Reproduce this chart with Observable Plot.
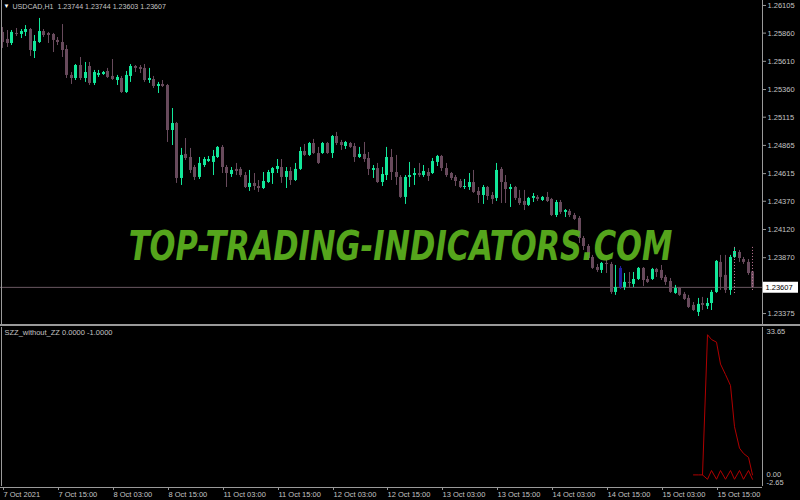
<!DOCTYPE html>
<html><head><meta charset="utf-8">
<script src="https://cdn.jsdelivr.net/npm/d3@7"></script>
<script src="https://cdn.jsdelivr.net/npm/@observablehq/plot@0.6"></script>
<style>
html,body{margin:0;padding:0;background:#000;}
#wrap{position:relative;width:800px;height:500px;background:#000;overflow:hidden;}
#wrap svg{position:absolute;left:0;}
</style></head><body><div id="wrap"></div>
<script>
// ---- data: USDCAD H1 candles (index 0 = 7 Oct 2021 03:00) ----
const open = [1.25866,1.25804,1.25768,1.25857,1.25848,1.25866,1.25892,1.25697,1.25777,1.25874,
1.25857,1.25848,1.25795,1.25777,1.25715,1.25485,1.25458,1.25573,1.25458,1.25564,
1.25414,1.25485,1.25493,1.25520,1.25476,1.25440,1.25458,1.25334,1.25476,1.25564,
1.25555,1.25547,1.25440,1.25449,1.25387,1.25405,1.25396,1.24997,1.25059,1.24572,
1.24785,1.24758,1.24669,1.24581,1.24687,1.24722,1.24714,1.24758,1.24847,1.24669,
1.24607,1.24652,1.24652,1.24598,1.24492,1.24528,1.24501,1.24483,1.24536,1.24616,
1.24652,1.24669,1.24581,1.24634,1.24554,1.24652,1.24811,1.24776,1.24882,1.24793,
1.24793,1.24882,1.24793,1.24944,1.24891,1.24855,1.24882,1.24855,1.24758,1.24785,
1.24749,1.24643,1.24660,1.24536,1.24598,1.24758,1.24625,1.24581,1.24404,1.24581,
1.24598,1.24616,1.24598,1.24625,1.24616,1.24714,1.24767,1.24660,1.24616,1.24581,
1.24545,1.24492,1.24492,1.24536,1.24457,1.24421,1.24492,1.24421,1.24395,1.24652,
1.24536,1.24474,1.24492,1.24395,1.24368,1.24333,1.24395,1.24404,1.24377,1.24404,
1.24386,1.24244,1.24359,1.24271,1.24280,1.24244,1.24218,1.24040,1.23969,1.23872,
1.23783,1.23757,1.23819,1.23810,1.23562,1.23775,1.23606,1.23651,1.23633,1.23677,
1.23775,1.23677,1.23677,1.23766,1.23757,1.23695,1.23659,1.23553,1.23597,1.23545,
1.23509,1.23447,1.23385,1.23464,1.23438,1.23464,1.23562,1.23828,1.23713,1.23580,
1.23872,1.23916,1.23854,1.23828,1.23744];
const high = [1.25910,1.25883,1.25883,1.25901,1.25892,1.25927,1.25901,1.25839,1.25990,1.25892,
1.25866,1.25857,1.25821,1.25936,1.25750,1.25511,1.25582,1.25644,1.25600,1.25600,
1.25529,1.25529,1.25520,1.25547,1.25626,1.25485,1.25476,1.25520,1.25582,1.25573,
1.25573,1.25582,1.25547,1.25476,1.25423,1.25440,1.25405,1.25192,1.25068,1.24838,
1.24926,1.24838,1.24687,1.24758,1.24758,1.24767,1.24820,1.24855,1.24864,1.24687,
1.24669,1.24705,1.24669,1.24625,1.24643,1.24616,1.24554,1.24625,1.24643,1.24669,
1.24740,1.24740,1.24669,1.24669,1.24705,1.24847,1.24873,1.24891,1.24918,1.24847,
1.24891,1.24891,1.24953,1.24980,1.24909,1.24900,1.24891,1.24882,1.24847,1.24891,
1.24802,1.24687,1.24705,1.24669,1.24847,1.24829,1.24776,1.24598,1.24598,1.24714,
1.24660,1.24705,1.24687,1.24660,1.24749,1.24776,1.24776,1.24705,1.24625,1.24598,
1.24563,1.24563,1.24616,1.24643,1.24492,1.24510,1.24501,1.24448,1.24705,1.24669,
1.24598,1.24519,1.24501,1.24466,1.24466,1.24404,1.24439,1.24421,1.24412,1.24448,
1.24395,1.24377,1.24377,1.24297,1.24297,1.24262,1.24235,1.24058,1.23987,1.23890,
1.23810,1.23828,1.23863,1.23828,1.23801,1.23792,1.23730,1.23739,1.23739,1.23783,
1.23783,1.23704,1.23775,1.23775,1.23801,1.23713,1.23686,1.23624,1.23606,1.23562,
1.23536,1.23473,1.23509,1.23518,1.23509,1.23580,1.23845,1.23890,1.23890,1.23890,
1.23961,1.23934,1.23872,1.23854,1.23744];
const low = [1.25724,1.25733,1.25750,1.25830,1.25812,1.25830,1.25653,1.25635,1.25768,1.25821,
1.25768,1.25688,1.25750,1.25644,1.25458,1.25405,1.25440,1.25440,1.25423,1.25396,
1.25396,1.25467,1.25485,1.25458,1.25440,1.25396,1.25325,1.25325,1.25423,1.25511,
1.25502,1.25423,1.25414,1.25369,1.25325,1.25378,1.24891,1.24864,1.24528,1.24510,
1.24731,1.24616,1.24554,1.24563,1.24669,1.24714,1.24598,1.24749,1.24616,1.24492,
1.24581,1.24598,1.24581,1.24483,1.24457,1.24466,1.24448,1.24474,1.24528,1.24519,
1.24616,1.24528,1.24483,1.24510,1.24545,1.24643,1.24767,1.24767,1.24785,1.24696,
1.24785,1.24785,1.24749,1.24864,1.24820,1.24829,1.24838,1.24714,1.24749,1.24714,
1.24598,1.24572,1.24528,1.24501,1.24554,1.24554,1.24510,1.24395,1.24342,1.24492,
1.24510,1.24581,1.24581,1.24545,1.24607,1.24678,1.24634,1.24581,1.24554,1.24501,
1.24483,1.24474,1.24466,1.24439,1.24350,1.24342,1.24377,1.24342,1.24368,1.24350,
1.24350,1.24315,1.24377,1.24333,1.24288,1.24324,1.24359,1.24368,1.24368,1.24359,
1.24235,1.24226,1.24253,1.24226,1.24226,1.24200,1.23996,1.23934,1.23845,1.23766,
1.23739,1.23730,1.23730,1.23545,1.23536,1.23589,1.23580,1.23606,1.23606,1.23668,
1.23615,1.23642,1.23668,1.23695,1.23668,1.23624,1.23553,1.23545,1.23527,1.23491,
1.23420,1.23394,1.23349,1.23402,1.23411,1.23402,1.23553,1.23580,1.23553,1.23536,
1.23863,1.23828,1.23810,1.23713,1.23603];
const close = [1.25777,1.25768,1.25866,1.25848,1.25874,1.25892,1.25706,1.25786,1.25874,1.25839,
1.25839,1.25795,1.25777,1.25706,1.25485,1.25458,1.25573,1.25458,1.25511,1.25414,
1.25511,1.25502,1.25511,1.25467,1.25449,1.25467,1.25334,1.25485,1.25564,1.25547,
1.25538,1.25440,1.25458,1.25387,1.25405,1.25387,1.24997,1.25059,1.24572,1.24776,
1.24749,1.24643,1.24581,1.24705,1.24740,1.24740,1.24767,1.24847,1.24669,1.24616,
1.24643,1.24634,1.24598,1.24492,1.24528,1.24501,1.24483,1.24545,1.24625,1.24660,
1.24678,1.24581,1.24634,1.24554,1.24652,1.24811,1.24776,1.24882,1.24793,1.24705,
1.24882,1.24793,1.24944,1.24882,1.24864,1.24891,1.24847,1.24758,1.24785,1.24740,
1.24652,1.24660,1.24536,1.24607,1.24758,1.24625,1.24581,1.24404,1.24581,1.24598,
1.24616,1.24598,1.24634,1.24590,1.24722,1.24767,1.24660,1.24598,1.24572,1.24545,
1.24492,1.24501,1.24536,1.24448,1.24421,1.24492,1.24412,1.24386,1.24643,1.24536,
1.24474,1.24492,1.24395,1.24350,1.24333,1.24395,1.24412,1.24386,1.24404,1.24368,
1.24244,1.24359,1.24271,1.24288,1.24244,1.24209,1.24040,1.23969,1.23863,1.23775,
1.23757,1.23819,1.23810,1.23562,1.23606,1.23606,1.23651,1.23642,1.23677,1.23775,
1.23668,1.23651,1.23766,1.23739,1.23686,1.23651,1.23562,1.23597,1.23536,1.23500,
1.23429,1.23402,1.23456,1.23447,1.23464,1.23562,1.23837,1.23695,1.23580,1.23872,
1.23925,1.23863,1.23828,1.23730,1.23607];
const blueBars = [135];
const lastPrice = 1.23607;
const priceTicks = [1.26105,1.25860,1.25610,1.25360,1.25115,1.24865,1.24615,1.24370,1.24120,1.23870,1.23375];
const timeTickIdx = [0,12,24,36,48,60,72,84,96,108,120,132,144,156];
const timeLabels = ["7 Oct 2021","7 Oct 15:00","8 Oct 03:00","8 Oct 15:00","11 Oct 03:00","11 Oct 15:00","12 Oct 03:00","12 Oct 15:00","13 Oct 03:00","13 Oct 15:00","14 Oct 03:00","14 Oct 15:00","15 Oct 03:00","15 Oct 15:00"];
const dotIdx = [160, 164];
const dotTop = [1.23961, 1.23961];
const dotBottom = [1.23553, 1.23580];
// indicator SZZ_without_ZZ
const curveIdx = [153,154,155,156,157,158,159,160,161,162,163,164];
const curveVal = [0, 32.0, 30.9, 30.3, 25.3, 22.9, 20.4, 11.0, 6.1, 4.9, 4.0, 0.0];
const zigIdx = [151,152,153,154,155,156,157,158,159,160,161,162,163,164];
const zigVal = [0, 0, 0, -1, 1, -1, 1, -1, 1, -1, 1, -1, 1, -1];
const titleText = "USDCAD,H1  1.23744 1.23744 1.23603 1.23607";
const legendText = "SZZ_without_ZZ 0.0000 -1.0000";
const watermark = "TOP-TRADING-INDICATORS.COM";

// ---- styling ----
const BULL = "#12e89a", BEAR = "#684a5c", BLUE = "#1f1f9e", RED = "#b00000";
const BORDER = "#9a9a9a", TXT = "#c4c4c4";
const font = "'Liberation Sans', Arial, sans-serif";
const fs = 7.5;

const bars = open.map((o, i) => ({i, o, h: high[i], l: low[i], c: close[i]}));
const col = d => blueBars.includes(d.i) ? BLUE : (d.c >= d.o ? BULL : BEAR);
const xCfg = {domain: [-0.5, 166.1], round: true, axis: null, label: null};

const main = Plot.plot({
  width: 800, height: 324, marginTop: 0, marginBottom: 0, marginLeft: 0, marginRight: 38,
  style: {background: "#000", color: TXT, fontFamily: font, fontSize: fs + "px"},
  x: xCfg,
  y: {domain: [1.23278, 1.26149], axis: null, label: null},
  marks: [
    Plot.ruleY([lastPrice], {stroke: "#6a5862"}),
    Plot.ruleX(bars, {x: "i", y1: "l", y2: "h", stroke: col}),
    Plot.ruleX(bars, {x: "i", y1: "o", y2: "c", stroke: col, strokeWidth: 3}),
    Plot.ruleX(dotIdx.map((i, k) => ({i, t: dotTop[k], b: dotBottom[k]})),
      {x: "i", y1: "b", y2: "t", stroke: "#c07898", strokeDasharray: "1,2"}),
    Plot.ruleX([166.1], {stroke: BORDER}),
    Plot.ruleX([-0.5], {stroke: BORDER, dx: 1}),
    Plot.axisY({anchor: "right", ticks: priceTicks, tickFormat: d => d.toFixed(5), label: null,
      tickSize: 3, tickPadding: 2, color: TXT, stroke: BORDER, fontSize: fs}),
    Plot.ruleY([lastPrice], {x1: 166.35, x2: 173.9, stroke: "#fff", strokeWidth: 11}),
    Plot.text([lastPrice], {y: d => d, x: 166.35, text: d => d.toFixed(5), textAnchor: "start",
      dx: 2, fill: "#000", fontSize: fs}),
    Plot.text(["\u25BC"], {text: d => d, frameAnchor: "top-left", dx: 3, dy: 3, lineAnchor: "top",
      fill: "#fff", fontSize: 6}),
    Plot.text([titleText], {text: d => d, frameAnchor: "top-left", dx: 12, dy: 3, lineAnchor: "top",
      fill: TXT, fontSize: 7.1}),
    Plot.text([watermark], {text: d => d, frameAnchor: "middle", dx: 19, dy: 85,
      fontSize: 40, fontWeight: "bold", fontStyle: "italic", fill: "#55a51c",
      fontFamily: "'DejaVu Sans', sans-serif"})
  ]
});

const curve = curveIdx.map((i, k) => ({i, v: curveVal[k]}));
const zig = zigIdx.map((i, k) => ({i, v: zigVal[k]}));

const lower = Plot.plot({
  width: 800, height: 176, marginTop: 3, marginBottom: 14, marginLeft: 0, marginRight: 38,
  style: {background: "#000", color: TXT, fontFamily: font, fontSize: fs + "px", overflow: "visible"},
  x: xCfg,
  y: {domain: [-2.65, 33.65], axis: null, label: null},
  marks: [
    Plot.line(curve, {x: "i", y: "v", stroke: RED, strokeWidth: 1}),
    Plot.line(zig, {x: "i", y: "v", stroke: RED, strokeWidth: 1}),
    Plot.ruleX([166.1], {stroke: BORDER}),
    Plot.ruleX([-0.5], {stroke: BORDER, dx: 1}),
    Plot.ruleY([-2.65], {stroke: BORDER, dy: 1}),
    Plot.ruleY([33.65], {x1: -0.5, x2: 175, stroke: BORDER, strokeWidth: 2, dy: -2.5}),
    Plot.axisX({anchor: "bottom", ticks: timeTickIdx, label: null,
      tickFormat: d => timeLabels[timeTickIdx.indexOf(d)],
      tickSize: 3, tickPadding: 1, textAnchor: "start", dx: 1, dy: 1,
      color: TXT, stroke: BORDER, fontSize: fs}),
    Plot.text([legendText], {text: d => d, frameAnchor: "top-left", dx: 4, dy: 5,
      lineAnchor: "middle", fill: TXT, fontSize: fs}),
    Plot.text([33.65], {y: d => d, text: d => d.toFixed(2), frameAnchor: "right", dx: 4, dy: 4,
      textAnchor: "start", fill: TXT, fontSize: fs}),
    Plot.text([0], {y: d => d, text: d => d.toFixed(2), frameAnchor: "right", dx: 4,
      textAnchor: "start", fill: TXT, fontSize: fs}),
    Plot.text([-2.65], {y: d => d, text: d => d.toFixed(2), frameAnchor: "right", dx: 4, dy: -4,
      textAnchor: "start", fill: TXT, fontSize: fs})
  ]
});

const wrap = document.getElementById("wrap");
main.style.top = "0px";
lower.style.top = "324px";
wrap.appendChild(main);
wrap.appendChild(lower);
// squeeze the watermark horizontally (about its own anchor) to the reference's width
d3.select(main).selectAll("text").each(function() {
  if (this.textContent === watermark) {
    const w = this.getComputedTextLength();
    const k = 544 / w;
    const hasXY = this.hasAttribute("x") || this.hasAttribute("y");
    if (hasXY) {
      const x = +this.getAttribute("x") || 0, y = +this.getAttribute("y") || 0;
      const t0 = this.getAttribute("transform") || "";
      this.setAttribute("transform", `${t0} translate(${x},${y}) scale(${k},1) translate(${-x},${-y})`);
    } else {
      const t0 = this.getAttribute("transform") || "";
      this.setAttribute("transform", `${t0} scale(${k},1)`);
    }
  }
});
</script></body></html>
